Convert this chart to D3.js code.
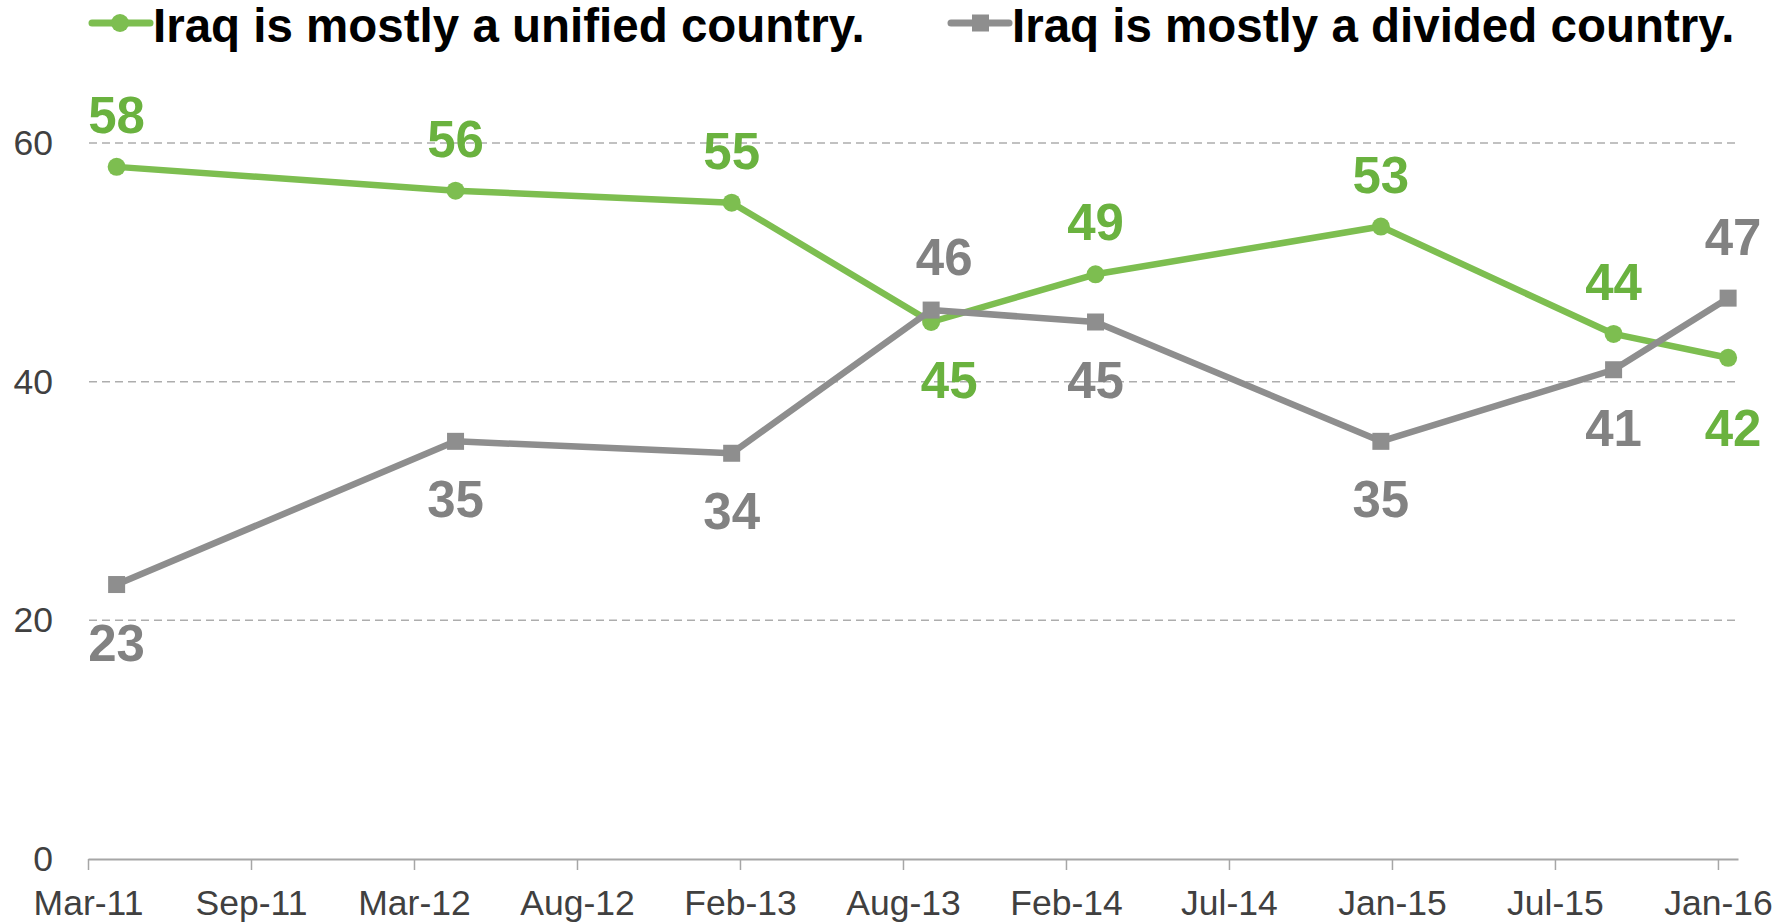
<!DOCTYPE html>
<html>
<head>
<meta charset="utf-8">
<script src="https://cdn.jsdelivr.net/npm/d3@7"></script>
<style>
  body { margin: 0; background: #fff; }
  svg { display: block; font-family: "Liberation Sans", Arial, sans-serif; }
</style>
</head>
<body>
<script>
// survey values
const surveyDates = ["2011-04-01", "2012-04-02", "2013-01-26", "2013-08-30",
                     "2014-02-24", "2014-12-30", "2015-09-08", "2016-01-10"];
const unified = [58, 56, 55, 45, 49, 53, 44, 42];
const divided = [23, 35, 34, 46, 45, 35, 41, 47];
const unifiedLabelPos = ["above", "above", "above", "below", "above", "above", "above", "below"];
const dividedLabelPos = ["below", "below", "below", "above", "below", "below", "below", "above"];

const tickLabels = ["Mar-11", "Sep-11", "Mar-12", "Aug-12", "Feb-13", "Aug-13",
                    "Feb-14", "Jul-14", "Jan-15", "Jul-15", "Jan-16"];
const yTicks = [0, 20, 40, 60];
const seriesNames = ["Iraq is mostly a unified country.", "Iraq is mostly a divided country."];

const axisStart = "2011-03-01";
const tickStepDays = 176.5;   // excel base unit, evenly spaced major ticks

const w = 1792, h = 924;
const green = "#7dbe50", greenText = "#6ab23f";
const grey = "#8e8e8e", greyText = "#828282";

// labels that were dragged by hand in the original (index -> [dx, dy])
const unifiedNudge = { 3: [18, 0], 7: [5, 12] };
const dividedNudge = { 3: [13, -1], 7: [5, -9] };

const parse = d3.utcParse("%Y-%m-%d");
const start = parse(axisStart);
const tickDates = tickLabels.map((t, i) => d3.utcHour.offset(start, Math.round(i * tickStepDays * 24)));
const end = d3.utcHour.offset(start, Math.round(10.123 * tickStepDays * 24));

const xScale = d3.scaleUtc().domain([start, end]).range([88, 1738]);
const yScale = d3.scaleLinear().domain([0, 60]).range([859, 143]);

const svg = d3.select("body").append("svg")
  .attr("width", w)
  .attr("height", h);

// gridlines
svg.append("g")
  .selectAll("line")
  .data(yTicks.filter(d => d > 0))
  .enter().append("line")
  .attr("x1", 89).attr("x2", 1737)
  .attr("y1", d => yScale(d)).attr("y2", d => yScale(d))
  .attr("stroke", "#adadad")
  .attr("stroke-width", 1.5)
  .attr("stroke-dasharray", "8,5");

// y axis labels only
const yAxis = d3.axisLeft(yScale).tickValues(yTicks).tickSize(0).tickPadding(35);
const yg = svg.append("g").attr("transform", "translate(88,0)").call(yAxis);
yg.select(".domain").remove();
yg.selectAll("text")
  .attr("font-size", 35.5)
  .attr("fill", "#404040")
  .attr("font-family", "'Liberation Sans', Arial, sans-serif");

// x axis
const xAxis = d3.axisBottom(xScale)
  .tickValues(tickDates)
  .tickFormat((d, i) => tickLabels[i])
  .tickSize(11)
  .tickSizeOuter(0)
  .tickPadding(20);
const xg = svg.append("g").attr("transform", "translate(0,859)").call(xAxis);
xg.select(".domain").attr("stroke", "#a6a6a6").attr("stroke-width", 2);
xg.selectAll(".tick line").attr("stroke", "#a6a6a6").attr("stroke-width", 1.5);
xg.selectAll("text")
  .attr("font-size", 35.5)
  .attr("fill", "#404040")
  .attr("font-family", "'Liberation Sans', Arial, sans-serif");

const dates = surveyDates.map(parse);
const line = d3.line()
  .x(d => xScale(d.date))
  .y(d => yScale(d.value));

let drawSeries = (values, positions, nudge, color, textColor, shape) => {
  const data = values.map((v, i) => ({ date: dates[i], value: v, pos: positions[i], nd: nudge[i] || [0, 0] }));
  const g = svg.append("g");
  g.append("path")
    .datum(data)
    .attr("d", line)
    .attr("fill", "none")
    .attr("stroke", color)
    .attr("stroke-width", 6.5)
    .attr("stroke-linejoin", "round");
  if (shape == "circle") {
    g.selectAll("circle").data(data).enter().append("circle")
      .attr("cx", d => xScale(d.date))
      .attr("cy", d => yScale(d.value))
      .attr("r", 9)
      .attr("fill", color);
  } else {
    g.selectAll("rect").data(data).enter().append("rect")
      .attr("x", d => xScale(d.date) - 8.5)
      .attr("y", d => yScale(d.value) - 8.5)
      .attr("width", 17)
      .attr("height", 17)
      .attr("fill", color);
  }
  g.selectAll("text").data(data).enter().append("text")
    .attr("x", d => xScale(d.date) + d.nd[0])
    .attr("y", d => yScale(d.value) + (d.pos == "above" ? -34 : 76) + d.nd[1])
    .attr("text-anchor", "middle")
    .attr("font-size", 51)
    .attr("font-weight", "bold")
    .attr("fill", textColor)
    .text(d => d.value);
};

drawSeries(unified, unifiedLabelPos, unifiedNudge, green, greenText, "circle");
drawSeries(divided, dividedLabelPos, dividedNudge, grey, greyText, "square");

// legend
const legend = svg.append("g");
const items = [
  { name: seriesNames[0], color: green, shape: "circle", x0: 92 },
  { name: seriesNames[1], color: grey, shape: "square", x0: 951 }
];
items.forEach(it => {
  const lg = legend.append("g").attr("transform", "translate(" + it.x0 + ",23)");
  lg.append("line")
    .attr("x1", 0).attr("x2", 58)
    .attr("stroke", it.color)
    .attr("stroke-width", 7)
    .attr("stroke-linecap", "round");
  if (it.shape == "circle") {
    lg.append("circle").attr("cx", 28).attr("r", 9).attr("fill", it.color);
  } else {
    lg.append("rect").attr("x", 21).attr("y", -8.5).attr("width", 17).attr("height", 17).attr("fill", it.color);
  }
  lg.append("text")
    .attr("x", 61)
    .attr("y", 19)
    .attr("font-size", 47.5)
    .attr("font-weight", "bold")
    .attr("fill", "#000")
    .text(it.name);
});
</script>
</body>
</html>
